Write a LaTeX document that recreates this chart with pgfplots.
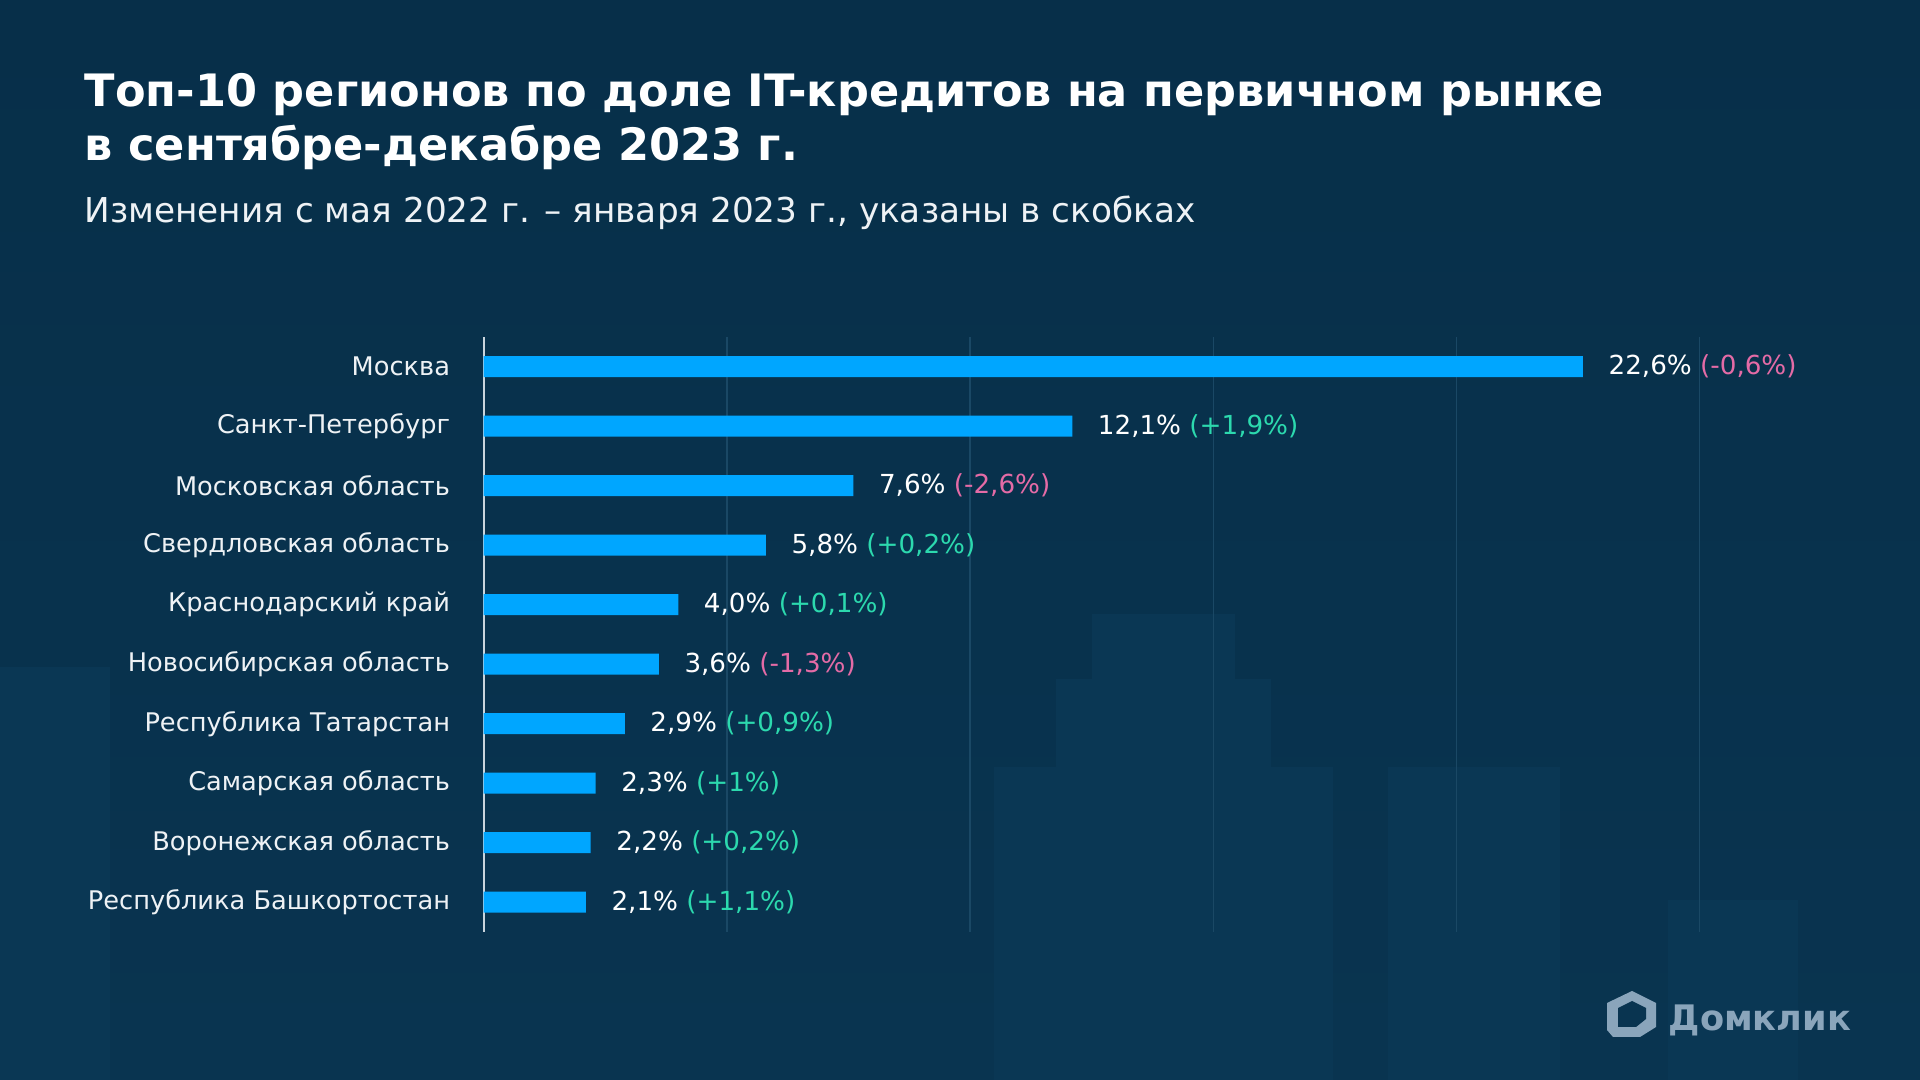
\documentclass[border=0pt]{standalone}
\usepackage{pgfplots}
\pgfplotsset{compat=1.18}
\usepackage{fontspec}
\setmainfont{DejaVu Sans}
\definecolor{bg}{HTML}{093450}
\definecolor{bgdark}{HTML}{072F49}
\definecolor{deco}{HTML}{0A3754}
\definecolor{barc}{HTML}{00A6FF}
\definecolor{negc}{HTML}{E46BA6}
\definecolor{posc}{HTML}{2CD9AE}
\definecolor{gridc}{HTML}{1A4865}
\definecolor{axisc}{HTML}{C9D4DC}
\definecolor{catc}{HTML}{EEF2F5}
\definecolor{logoc}{HTML}{8AA5BB}
\begin{document}
\begin{tikzpicture}[x=1cm,y=1cm]
\shade[top color=bgdark, bottom color=bg] (0,0) rectangle (19.2,10.8);
% faint background skyline
\fill[deco] (10.92,0) rectangle (12.35,4.66);
\fill[deco] (10.56,0) rectangle (12.71,4.01);
\fill[deco] (9.94,0) rectangle (13.33,3.13);
\fill[deco] (13.88,0) rectangle (15.60,3.13);
\fill[deco] (16.68,0) rectangle (17.98,1.80);
\fill[deco] (0,0) rectangle (1.10,4.13);
% titles
\node[anchor=base west, inner sep=0pt, text=white, font=\fontsize{12.7}{14}\selectfont\bfseries] at (0.84,9.73) {Топ-10 регионов по доле IT-кредитов на первичном рынке};
\node[anchor=base west, inner sep=0pt, text=white, font=\fontsize{12.7}{14}\selectfont\bfseries] at (0.84,9.19) {в сентябре-декабре 2023 г.};
\node[anchor=base west, inner sep=0pt, text=catc, font=\fontsize{9.75}{11}\selectfont] at (0.84,8.57) {Изменения с мая 2022 г. – января 2023 г., указаны в скобках};
% logo
\fill[logoc] (16.32,0.89) -- (16.56,0.77) -- (16.56,0.53) -- (16.40,0.43) -- (16.13,0.43) -- (16.07,0.50) -- (16.07,0.77) -- cycle;
\fill[bg] (16.18,0.72) -- (16.32,0.79) -- (16.46,0.72) -- (16.46,0.61) -- (16.36,0.53) -- (16.18,0.53) -- cycle;
\node[anchor=base west, inner sep=0pt, text=logoc, font=\fontsize{10}{11}\selectfont\bfseries] at (16.68,0.49) {Домклик};
\begin{axis}[
  at={(4.837cm,1.48cm)}, anchor=south west,
  scale only axis, width=12.16cm, height=5.95cm,
  xmin=0, xmax=25, ymin=-0.5, ymax=9.5,
  xbar, bar width=0.21cm,
  axis lines*=left,
  x axis line style={draw=none},
  y axis line style={draw=axisc, line width=0.02cm},
  xtick={5,10,15,20,25}, xticklabels={},
  xmajorgrids, major grid style={draw=gridc, line width=0.015cm},
  major tick length=0pt, tick style={draw=none},
  ytick={0,1,2,3,4,5,6,7,8,9},
  yticklabels={Республика Башкортостан, Воронежская область, Самарская область\hspace{0.07cm}, Республика Татарстан, Новосибирская область, Краснодарский край, Свердловская область, Московская область, Санкт-Петербург, Москва},
  yticklabel style={anchor=east, inner sep=0pt, xshift=-0.33cm, text=catc, font=\fontsize{7.3}{8}\selectfont},
  clip=false,
  nodes near coords,
  point meta=explicit symbolic,
  nodes near coords style={anchor=west, inner sep=0pt, xshift=0.25cm, text=white, font=\fontsize{7.45}{9}\selectfont},
]
\addplot[fill=barc, draw=none] coordinates {
  (22.6,9) [{22,6\% \textcolor{negc}{(-0,6\%)}}]
  (12.1,8) [{12,1\% \textcolor{posc}{(+1,9\%)}}]
  (7.6,7)  [{7,6\% \textcolor{negc}{(-2,6\%)}}]
  (5.8,6)  [{5,8\% \textcolor{posc}{(+0,2\%)}}]
  (4.0,5)  [{4,0\% \textcolor{posc}{(+0,1\%)}}]
  (3.6,4)  [{3,6\% \textcolor{negc}{(-1,3\%)}}]
  (2.9,3)  [{2,9\% \textcolor{posc}{(+0,9\%)}}]
  (2.3,2)  [{2,3\% \textcolor{posc}{(+1\%)}}]
  (2.2,1)  [{2,2\% \textcolor{posc}{(+0,2\%)}}]
  (2.1,0)  [{2,1\% \textcolor{posc}{(+1,1\%)}}]
};
\end{axis}
\end{tikzpicture}
\end{document}
